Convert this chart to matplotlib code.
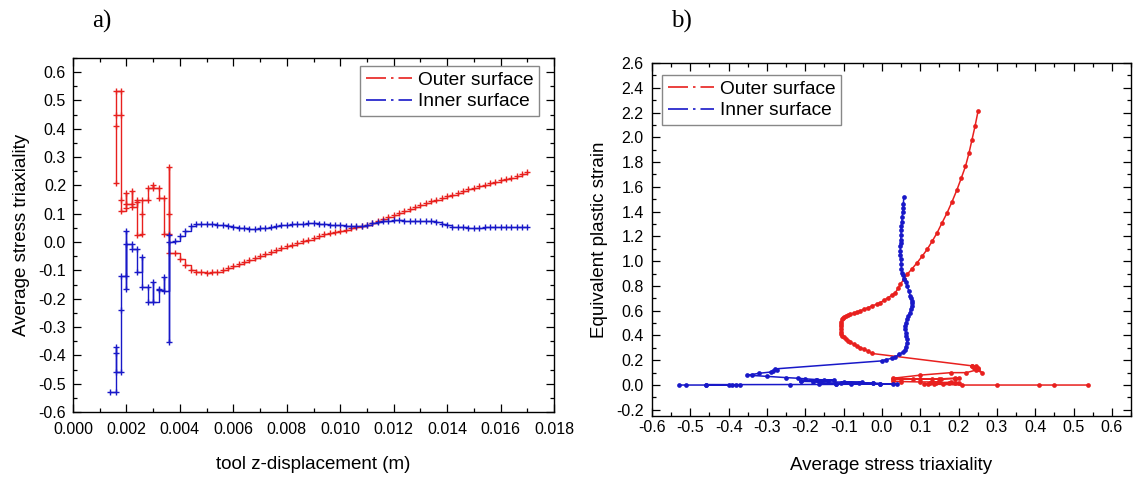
import matplotlib
matplotlib.use("Agg")
import matplotlib.pyplot as plt
from matplotlib.lines import Line2D
from matplotlib.ticker import MultipleLocator, FormatStrFormatter

plt.rcParams['font.family'] = ['Liberation Sans', 'DejaVu Sans']
plt.rcParams['axes.unicode_minus'] = False

RED = '#e8201e'
BLUE = '#1818c8'

# ---------------- panel a data: tool z-displacement vs triaxiality ----------------
a_outer_x = [0.0016, 0.0016, 0.0016, 0.0016, 0.0018, 0.0018, 0.0018, 0.0018,
             0.0020, 0.0020, 0.0020, 0.0022, 0.0022, 0.0022, 0.0024, 0.0024, 0.0024,
             0.0026, 0.0026, 0.0026, 0.0028, 0.0028, 0.0030, 0.0030, 0.0032, 0.0032,
             0.0034, 0.0034, 0.0036, 0.0036, 0.0036, 0.0036,
             0.0038, 0.0040, 0.0042, 0.0044, 0.0046, 0.0048, 0.0050, 0.0052, 0.0054,
             0.0056, 0.0058, 0.0060, 0.0062, 0.0064, 0.0066, 0.0068, 0.0070, 0.0072,
             0.0074, 0.0076, 0.0078, 0.0080, 0.0082, 0.0084, 0.0086, 0.0088, 0.0090,
             0.0092, 0.0094, 0.0096, 0.0098, 0.0100, 0.0102, 0.0104, 0.0106, 0.0108,
             0.0110, 0.0112, 0.0114, 0.0116, 0.0118, 0.0120, 0.0122, 0.0124, 0.0126,
             0.0128, 0.0130, 0.0132, 0.0134, 0.0136, 0.0138, 0.0140, 0.0142, 0.0144,
             0.0146, 0.0148, 0.0150, 0.0152, 0.0154, 0.0156, 0.0158, 0.0160, 0.0162,
             0.0164, 0.0166, 0.0168, 0.0170]
a_outer_y = [0.21, 0.41, 0.45, 0.535, 0.535, 0.45, 0.15, 0.11,
             0.12, 0.175, 0.135, 0.135, 0.18, 0.125, 0.14, 0.15, 0.025,
             0.03, 0.10, 0.15, 0.15, 0.19, 0.20, 0.19, 0.19, 0.155,
             0.155, 0.03, 0.03, 0.265, 0.10, -0.04,
             -0.04, -0.06, -0.08, -0.098, -0.105, -0.107, -0.108, -0.107, -0.104,
             -0.098, -0.091, -0.083, -0.076, -0.069, -0.062, -0.055, -0.048, -0.041,
             -0.034, -0.027, -0.021, -0.015, -0.009, -0.003, 0.003, 0.009, 0.015,
             0.021, 0.027, 0.032, 0.036, 0.040, 0.044, 0.048, 0.052, 0.056,
             0.061, 0.067, 0.074, 0.081, 0.088, 0.096, 0.104, 0.111, 0.118,
             0.125, 0.131, 0.138, 0.144, 0.150, 0.156, 0.162, 0.168, 0.174,
             0.180, 0.186, 0.192, 0.197, 0.203, 0.208, 0.213, 0.218, 0.223,
             0.228, 0.234, 0.240, 0.247]

a_inner_x = [0.0014, 0.0016, 0.0016, 0.0016, 0.0016, 0.0018, 0.0018, 0.0018,
             0.0020, 0.0020, 0.0020, 0.0020, 0.0022, 0.0022, 0.0024, 0.0024,
             0.0026, 0.0026, 0.0028, 0.0028, 0.0030, 0.0030, 0.0032, 0.0032,
             0.0034, 0.0034, 0.0036, 0.0036, 0.0036,
             0.0038, 0.0040, 0.0042, 0.0044, 0.0046, 0.0048, 0.0050, 0.0052, 0.0054,
             0.0056, 0.0058, 0.0060, 0.0062, 0.0064, 0.0066, 0.0068, 0.0070, 0.0072,
             0.0074, 0.0076, 0.0078, 0.0080, 0.0082, 0.0084, 0.0086, 0.0088, 0.0090,
             0.0092, 0.0094, 0.0096, 0.0098, 0.0100, 0.0102, 0.0104, 0.0106, 0.0108,
             0.0110, 0.0112, 0.0114, 0.0116, 0.0118, 0.0120, 0.0122, 0.0124, 0.0126,
             0.0128, 0.0130, 0.0132, 0.0134, 0.0136, 0.0138, 0.0140, 0.0142, 0.0144,
             0.0146, 0.0148, 0.0150, 0.0152, 0.0154, 0.0156, 0.0158, 0.0160, 0.0162,
             0.0164, 0.0166, 0.0168, 0.0170]
a_inner_y = [-0.53, -0.53, -0.37, -0.39, -0.46, -0.46, -0.24, -0.12,
             -0.12, 0.04, -0.165, -0.006, -0.006, -0.024, -0.024, -0.106,
             -0.053, -0.159, -0.159, -0.21, -0.141, -0.21, -0.165, -0.17,
             -0.124, -0.171, 0.024, -0.353, 0.0,
             0.005, 0.02, 0.04, 0.058, 0.064, 0.065, 0.065, 0.064, 0.062,
             0.060, 0.057, 0.053, 0.050, 0.048, 0.047, 0.047, 0.048, 0.050,
             0.053, 0.056, 0.059, 0.061, 0.063, 0.065, 0.065, 0.066, 0.066,
             0.065, 0.063, 0.061, 0.060, 0.059, 0.057, 0.056, 0.056, 0.057,
             0.060, 0.066, 0.072, 0.075, 0.076, 0.077, 0.077, 0.076, 0.076,
             0.076, 0.076, 0.076, 0.075, 0.071, 0.065, 0.059, 0.055, 0.053,
             0.052, 0.051, 0.051, 0.051, 0.052, 0.052, 0.052, 0.053, 0.053,
             0.053, 0.053, 0.053, 0.053]

# ---------------- panel b data: triaxiality vs equivalent plastic strain ----------------
b_outer_x = [0.537, 0.45, 0.41, 0.30, 0.21, 0.16, 0.12, 0.11, 0.135, 0.175, 0.19, 0.20,
             0.18, 0.14, 0.125, 0.15, 0.10, 0.05, 0.03, 0.03, 0.08, 0.13, 0.15, 0.19,
             0.20, 0.19, 0.155, 0.10, 0.05, 0.03, 0.10, 0.18, 0.22, 0.245, 0.262, 0.25,
             0.24, 0.235, 0.245, 0.25, 0.235,
             -0.026, -0.037, -0.047, -0.056, -0.065, -0.074, -0.082, -0.089, -0.095,
             -0.100, -0.103, -0.106, -0.107, -0.108, -0.108, -0.107, -0.106, -0.103,
             -0.101, -0.098, -0.093, -0.088, -0.082, -0.074, -0.065, -0.056, -0.047, -0.036,
             -0.025, -0.014, -0.004, 0.006, 0.016, 0.026, 0.035, 0.042, 0.048,
             0.057, 0.066, 0.079, 0.092, 0.105, 0.118, 0.131, 0.144, 0.157,
             0.170, 0.183, 0.196, 0.207, 0.218, 0.227, 0.235, 0.243, 0.251]
b_outer_y = [0.0, 0.0, 0.0, 0.0, 0.0, 0.005, 0.008, 0.010, 0.012, 0.015, 0.018, 0.020,
             0.022, 0.020, 0.020, 0.025, 0.025, 0.028, 0.030, 0.045, 0.048, 0.050, 0.050, 0.052,
             0.055, 0.055, 0.050, 0.050, 0.050, 0.055, 0.080, 0.100, 0.100, 0.120, 0.100, 0.130,
             0.140, 0.150, 0.150, 0.140, 0.155,
             0.255, 0.275, 0.29, 0.302, 0.315, 0.33, 0.344, 0.357, 0.37,
             0.384, 0.397, 0.413, 0.43, 0.455, 0.478, 0.495, 0.51, 0.53,
             0.545, 0.553, 0.56, 0.566, 0.572, 0.58, 0.59, 0.60, 0.612,
             0.625, 0.64, 0.652, 0.666, 0.685, 0.705, 0.725, 0.746, 0.78,
             0.813, 0.853, 0.894, 0.94, 0.988, 1.04, 1.095, 1.16, 1.229,
             1.31, 1.39, 1.48, 1.578, 1.67, 1.765, 1.87, 1.98, 2.09, 2.213]

b_inner_x = [-0.53, -0.51, -0.46, -0.40, -0.38, -0.37, -0.39, -0.46, -0.24, -0.12, -0.12,
             0.04, 0.03, -0.006, -0.08, -0.165, -0.006, -0.024, -0.024, -0.06, -0.106,
             -0.053, -0.10, -0.159, -0.18, -0.21, -0.141, -0.21, -0.165, -0.17, -0.124,
             -0.15, -0.171, -0.20, -0.22, -0.25, -0.30, -0.353, -0.34, -0.32, -0.29,
             -0.285, -0.275, -0.28, 0.0, 0.01, 0.025, 0.035, 0.045,
             0.055, 0.060, 0.062, 0.065, 0.066, 0.064, 0.063, 0.061, 0.060, 0.062,
             0.065, 0.068, 0.072, 0.075, 0.078, 0.079, 0.078, 0.077, 0.074, 0.070,
             0.066, 0.062, 0.058, 0.055, 0.053, 0.051, 0.050, 0.049, 0.048, 0.048,
             0.048, 0.049, 0.049, 0.050, 0.050, 0.051, 0.052, 0.053, 0.054, 0.055,
             0.056, 0.057]
b_inner_y = [0.0, 0.0, 0.0, 0.0, 0.0, 0.001, 0.002, 0.003, 0.004, 0.005, 0.006,
             0.007, 0.008, 0.009, 0.010, 0.011, 0.012, 0.014, 0.016, 0.018, 0.020,
             0.022, 0.024, 0.026, 0.028, 0.030, 0.032, 0.034, 0.036, 0.038, 0.040,
             0.042, 0.044, 0.050, 0.055, 0.060, 0.070, 0.080, 0.085, 0.095, 0.105,
             0.115, 0.125, 0.130, 0.195, 0.205, 0.215, 0.225, 0.25,
             0.264, 0.285, 0.31, 0.34, 0.37, 0.395, 0.42, 0.45, 0.478, 0.50,
             0.53, 0.555, 0.58, 0.61, 0.64, 0.66, 0.68, 0.70, 0.72, 0.76,
             0.80, 0.83, 0.86, 0.885, 0.907, 0.94, 0.98, 1.015, 1.05, 1.085,
             1.12, 1.15, 1.175, 1.21, 1.25, 1.285, 1.32, 1.36, 1.40, 1.43,
             1.46, 1.516]

a_xticks = [0.000, 0.002, 0.004, 0.006, 0.008, 0.010, 0.012, 0.014, 0.016, 0.018]
b_xticks = [-0.6, -0.5, -0.4, -0.3, -0.2, -0.1, 0.0, 0.1, 0.2, 0.3, 0.4, 0.5, 0.6]
labels = ['Outer surface', 'Inner surface']

fig = plt.figure(figsize=(11.34, 4.78), dpi=100)
W, H = 1134, 478
ax1 = fig.add_axes([73 / W, 1 - 412 / H, (554 - 73) / W, (412 - 58) / H])
ax2 = fig.add_axes([652 / W, 1 - 416 / H, (1131 - 652) / W, (416 - 63) / H])

for ax in (ax1, ax2):
    for s in ax.spines.values():
        s.set_linewidth(1.0)
    ax.tick_params(which='both', direction='in', top=True, right=True, labelsize=11.5, width=0.9)
    ax.tick_params(which='major', length=5.5)
    ax.tick_params(which='minor', length=3)

kw_a = dict(lw=1.0, marker='+', ms=4, mew=1.0, drawstyle='steps-post')
ax1.plot(a_outer_x, a_outer_y, color=RED, **kw_a)
ax1.plot(a_inner_x, a_inner_y, color=BLUE, **kw_a)
ax1.set_xlim(0, 0.018)
ax1.set_ylim(-0.6, 0.65)
ax1.set_xticks(a_xticks)
ax1.xaxis.set_minor_locator(MultipleLocator(0.001))
ax1.yaxis.set_major_locator(MultipleLocator(0.1))
ax1.yaxis.set_minor_locator(MultipleLocator(0.05))
ax1.xaxis.set_major_formatter(FormatStrFormatter('%.3f'))
ax1.yaxis.set_major_formatter(FormatStrFormatter('%.1f'))
ax1.tick_params(axis='x', pad=7)
ax1.tick_params(axis='y', pad=5)
ax1.set_xlabel('tool z-displacement (m)', fontsize=13.5, labelpad=14)
ax1.set_ylabel('Average stress triaxiality', fontsize=13.5, labelpad=6)

kw_b = dict(lw=1.1, marker='o', ms=3.4, mew=0)
ax2.plot(b_outer_x, b_outer_y, color=RED, **kw_b)
ax2.plot(b_inner_x, b_inner_y, color=BLUE, **kw_b)
ax2.set_xlim(-0.6, 0.65)
ax2.set_ylim(-0.25, 2.6)
ax2.set_xticks(b_xticks)
ax2.xaxis.set_minor_locator(MultipleLocator(0.05))
ax2.yaxis.set_major_locator(MultipleLocator(0.2))
ax2.yaxis.set_minor_locator(MultipleLocator(0.1))
ax2.xaxis.set_major_formatter(FormatStrFormatter('%.1f'))
ax2.yaxis.set_major_formatter(FormatStrFormatter('%.1f'))
ax2.tick_params(axis='x', pad=3)
ax2.tick_params(axis='y', pad=6)
ax2.set_xlabel('Average stress triaxiality', fontsize=13.5, labelpad=16)
ax2.set_ylabel('Equivalent plastic strain', fontsize=13.5, labelpad=6)

handles = [Line2D([], [], color=RED, lw=1.2, linestyle=(0, (12, 3, 1.5, 3))),
           Line2D([], [], color=BLUE, lw=1.2, linestyle=(0, (12, 3, 1.5, 3)))]
leg_kw = dict(fontsize=13.8, frameon=True, fancybox=False, framealpha=1, edgecolor='#888888',
              handlelength=2.4, handletextpad=0.3, labelspacing=0.2, borderpad=0.3,
              borderaxespad=0.0, handleheight=0.7)
l1 = ax1.legend(handles, labels, loc='upper right', bbox_to_anchor=(539 / W, 1 - 66 / H),
                bbox_transform=fig.transFigure, **leg_kw)
l2 = ax2.legend(handles, labels, loc='upper left', bbox_to_anchor=(662 / W, 1 - 75 / H),
                bbox_transform=fig.transFigure, **leg_kw)
for l in (l1, l2):
    l.get_frame().set_linewidth(1.0)

fig.text(102 / W, 1 - 21 / H, 'a)', fontsize=18, family=['Liberation Serif'], ha='center', va='center')
fig.text(681 / W, 1 - 21 / H, 'b)', fontsize=18, family=['Liberation Serif'], ha='center', va='center')

fig.savefig('out.png', dpi=100)
